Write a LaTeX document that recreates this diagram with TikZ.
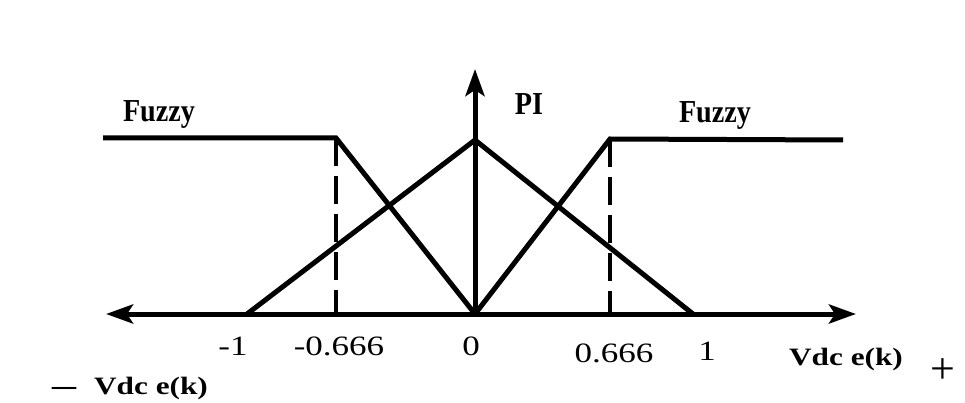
\documentclass[tikz,border=0pt]{standalone}
\usepackage{fontspec}
\setmainfont{Liberation Serif}
\usetikzlibrary{arrows.meta}
\begin{document}
\begin{tikzpicture}[x=1pt,y=-1pt,
  axis/.style={line width=5pt,-{Stealth[length=27pt,width=19pt,inset=6pt]}},
  mf/.style={line width=5pt,line join=miter},
  dsh/.style={line width=4pt,dash pattern=on 28pt off 10pt},
  lab/.style={inner sep=0pt,anchor=base,font=\fontsize{32}{32}\selectfont\bfseries},
  num/.style={inner sep=0pt,anchor=base,font=\fontsize{28}{28}\selectfont},
  blab/.style={inner sep=0pt,anchor=base,font=\fontsize{25}{25}\selectfont\bfseries}]
\useasboundingbox (0,0) rectangle (965,403);
% key points
\coordinate (O) at (475,314);
\coordinate (L) at (106,314);
\coordinate (R) at (856,314);
\coordinate (T) at (475,69);
\coordinate (P) at (475,140);
\coordinate (m1) at (247,314);
\coordinate (p1) at (693,314);
\coordinate (lcorner) at (336,138);
\coordinate (rcorner) at (610,139);
\coordinate (lend) at (103,138);
\coordinate (rend) at (843,140);
\coordinate (lfoot) at (336,314);
\coordinate (rfoot) at (610,314);
% axes
\draw[axis] (O) -- (L);
\draw[axis] (O) -- (R);
\draw[axis] (O) -- (T);
% membership functions
\draw[mf] (lend) -- (lcorner) -- (O);
\draw[mf] (O) -- (rcorner) -- (rend);
\draw[mf] (m1) -- (P) -- (p1);
% dashed lines
\draw[dsh] (lcorner) -- (lfoot);
\draw[dsh] (rcorner) -- (rfoot);
% labels
\node[lab] (fl) at (159,122) {\scalebox{0.88}[1]{Fuzzy}};
\node[lab] (pi) at (529,115) {\scalebox{0.88}[1]{PI}};
\node[lab] (fr) at (715,123) {\scalebox{0.88}[1]{Fuzzy}};
\node[num] (n1) at (233,355) {\scalebox{1.25}[1]{-1}};
\node[num] (n2) at (339,355) {\scalebox{1.25}[1]{-0.666}};
\node[num] (n3) at (471,355) {\scalebox{1.25}[1]{0}};
\node[num] (n4) at (614,362) {\scalebox{1.25}[1]{0.666}};
\node[num] (n5) at (707,360) {\scalebox{1.25}[1]{1}};
\node[blab] (vr) at (846,365) {\scalebox{1.25}[1]{Vdc e(k)}};
\node[blab] (vl) at (151,394) {\scalebox{1.25}[1]{Vdc e(k)}};
\node[inner sep=0pt,font=\fontsize{44}{44}\selectfont] (plus) at (943,371) {+};
\node[inner sep=0pt,font=\fontsize{30}{30}\selectfont\bfseries] (minus) at (64,391) {\scalebox{1.6}[1]{–}};
\end{tikzpicture}
\end{document}
